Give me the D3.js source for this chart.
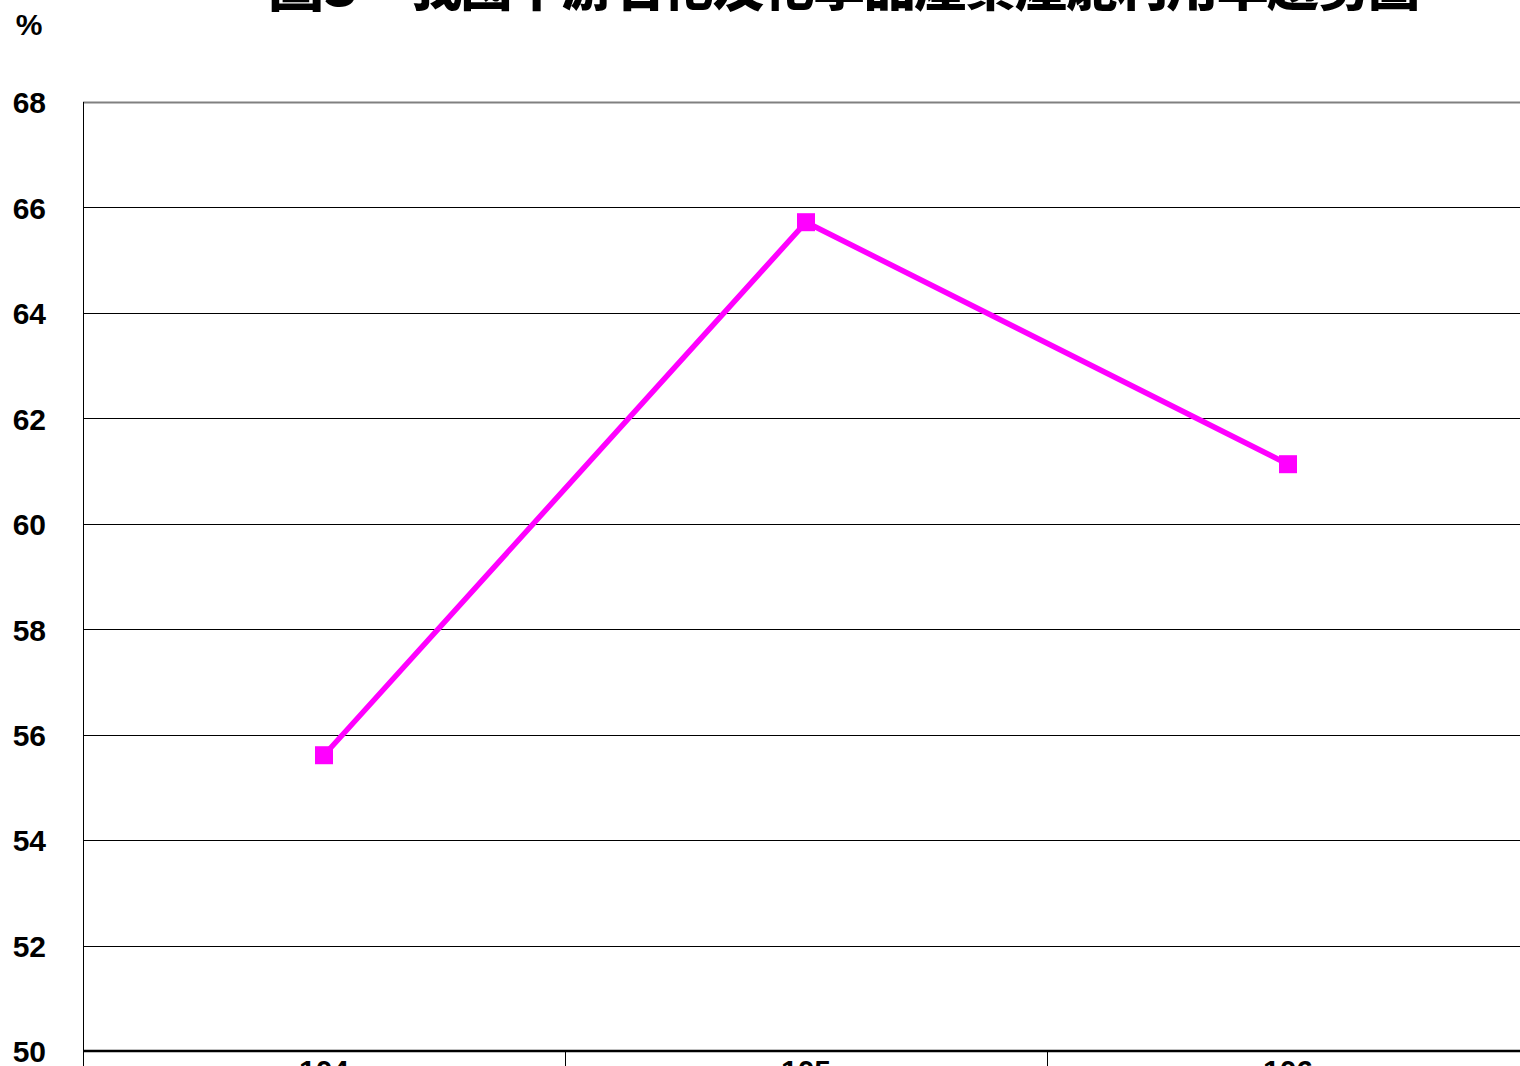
<!DOCTYPE html>
<html><head><meta charset="utf-8">
<script src="https://cdn.jsdelivr.net/npm/d3@7"></script>
<style>html,body{margin:0;padding:0;background:#fff;overflow:hidden}</style>
</head><body>
<script>
const titleNo = "圖3";
const titleText = "我國中游石化及化學品產業產能利用率趨勢圖";
const categories = ["104", "105", "106"];
const values = [55.61, 65.72, 61.13];
const yTicks = [50, 52, 54, 56, 58, 60, 62, 64, 66, 68];
const unitLabel = "%";

const W = 1520, H = 1066;
const svg = d3.select("body").append("svg").attr("width", W).attr("height", H);
const mLeft = 83, mTop = 102, mBottom = 1051, mRight = 1529;

const x = d3.scaleBand().domain(categories).range([mLeft, mRight]);
const y = d3.scaleLinear().domain([50, 68]).range([mBottom, mTop]);

// gridlines
svg.append("g").selectAll("line").data(yTicks.slice(1)).join("line")
  .attr("x1", mLeft).attr("x2", mRight)
  .attr("y1", d => Math.round(y(d)) + 0.5).attr("y2", d => Math.round(y(d)) + 0.5)
  .attr("stroke", d => d === 68 ? "#808080" : "#000").attr("stroke-width", d => d === 68 ? 2 : 1);

// left axis line
svg.append("line").attr("x1", mLeft + 0.5).attr("x2", mLeft + 0.5).attr("y1", mTop).attr("y2", mBottom)
  .attr("stroke", "#000").attr("stroke-width", 1);

// y labels
const yAxis = d3.axisLeft(y).tickValues(yTicks).tickSize(0).tickPadding(0).tickFormat(d3.format("d"));
const yg = svg.append("g").attr("transform", `translate(46,0)`).call(yAxis);
yg.select(".domain").remove();
yg.selectAll("text").attr("font-family", "Liberation Sans, Arial, sans-serif")
  .attr("font-weight", "bold").attr("font-size", 30).attr("fill", "#000").attr("dy", "0.36em");

// x axis
const xAxis = d3.axisBottom(x).tickSize(0).tickPadding(0);
const xg = svg.append("g").attr("transform", `translate(0,${mBottom})`).call(xAxis);
xg.select(".domain").remove();
xg.selectAll("text").attr("font-family", "Liberation Sans, Arial, sans-serif")
  .attr("font-weight", "bold").attr("font-size", 30).attr("fill", "#000").attr("dy", "0.72em").attr("y", 8);
// bottom axis line
svg.append("line").attr("x1", mLeft).attr("x2", mRight).attr("y1", mBottom).attr("y2", mBottom)
  .attr("stroke", "#000").attr("stroke-width", 2.5);
// category separators
svg.append("g").selectAll("line").data(categories).join("line")
  .attr("x1", d => x(d) + 0.5).attr("x2", d => x(d) + 0.5)
  .attr("y1", mBottom).attr("y2", mBottom + 20).attr("stroke", "#000").attr("stroke-width", 1);

// line
const line = d3.line().x((d, i) => x(categories[i]) + x.bandwidth() / 2).y(d => y(d));
svg.append("path").datum(values).attr("d", line).attr("fill", "none")
  .attr("stroke", "#FF00FF").attr("stroke-width", 5.5).attr("stroke-linejoin", "miter");
svg.append("g").selectAll("rect").data(values).join("rect")
  .attr("x", (d, i) => x(categories[i]) + x.bandwidth() / 2 - 9)
  .attr("y", d => y(d) - 9).attr("width", 18).attr("height", 18).attr("fill", "#FF00FF");

// unit
svg.append("text").attr("x", 29).attr("y", 35).attr("text-anchor", "middle")
  .attr("font-family", "Liberation Sans, Arial, sans-serif").attr("font-weight", "bold")
  .attr("font-size", 30).text(unitLabel);

// title
svg.append("text").attr("x", 268).attr("y", 6)
  .attr("font-family", "Noto Sans CJK TC").attr("font-weight", "900").attr("font-size", 56).text(titleNo);
svg.append("text").attr("x", 410).attr("y", 6).attr("textLength", 1010).attr("lengthAdjust", "spacing")
  .attr("font-family", "Noto Sans CJK TC").attr("font-weight", "900").attr("font-size", 52).text(titleText);
</script>
</body></html>
